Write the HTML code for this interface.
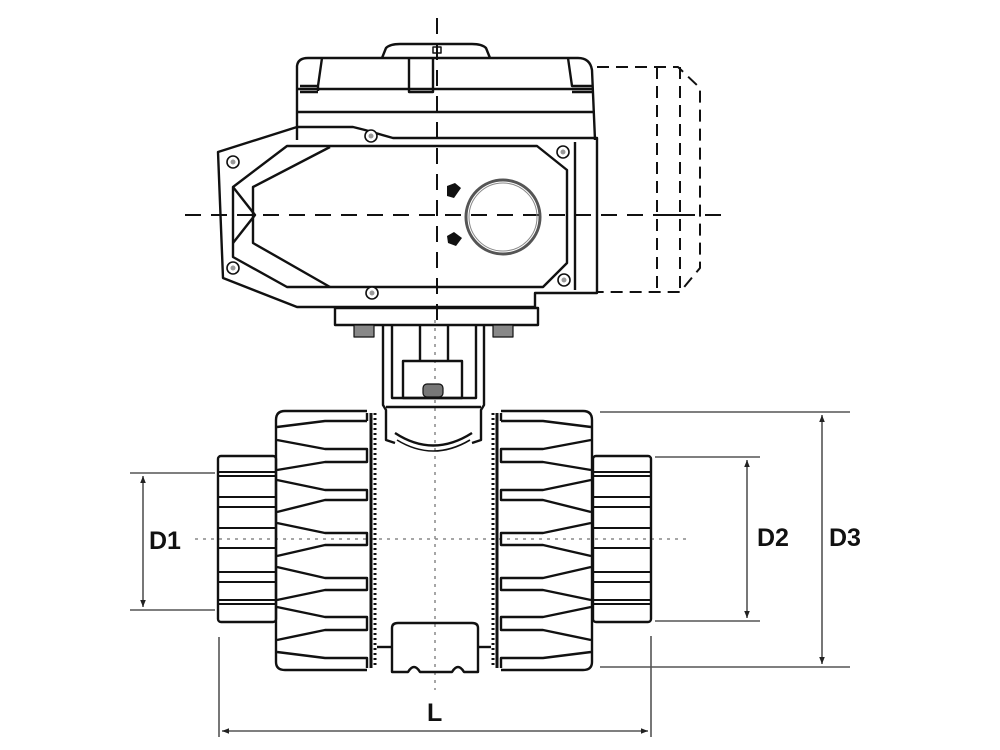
<!DOCTYPE html>
<html><head><style>html,body{margin:0;padding:0;background:#fff}svg{display:block}</style></head>
<body>
<svg width="1000" height="750" viewBox="0 0 1000 750" xmlns="http://www.w3.org/2000/svg" fill="none" stroke="#111" stroke-width="2.4" stroke-linejoin="round">
<defs>
<marker id="ar" viewBox="0 0 10 10" refX="10" refY="5" markerWidth="7" markerHeight="9" orient="auto-start-reverse" markerUnits="userSpaceOnUse"><path d="M0,1 L10,5 L0,9 z" fill="#222" stroke="none"/></marker>
</defs>
<!-- center lines -->
<g stroke="#111" stroke-width="2" stroke-dasharray="16,10">
<line x1="185" y1="215" x2="730" y2="215"/>
<line x1="437" y1="18" x2="437" y2="320"/>
</g>
<g stroke="#888" stroke-width="1.5" stroke-dasharray="3,5">
<line x1="195" y1="539" x2="690" y2="539"/>
<line x1="435" y1="320" x2="435" y2="690"/>
</g>

<!-- actuator top knob -->
<path d="M382,58 L386,48 Q390,44 400,44 L472,44 Q482,44 486,48 L490,58"/>
<rect x="433" y="47" width="8" height="6" stroke-width="1.5"/>
<!-- cover -->
<path d="M297,140 L297,66 Q298,58 308,58 L578,58 Q590,58 592,70 L595,140"/>
<line x1="297" y1="89" x2="592" y2="89"/>
<line x1="297" y1="112" x2="595" y2="112"/>
<path d="M322,58 L318,86 L300,86 M318,86 L318,91"/>
<path d="M568,58 L572,86 L592,86"/>
<path d="M409,58 L409,92 L433,92 L433,58"/>
<line x1="300" y1="92" x2="318" y2="92"/>
<line x1="572" y1="92" x2="592" y2="92"/>
<!-- housing -->
<path d="M218,152 L297,127 L353,127 L365,130 L393,138 L597,138 L597,293 L535,293 L535,307 L297,307 L223,278 Z"/>
<line x1="575" y1="142" x2="575" y2="290"/>
<path d="M287,146 L537,146 L567,170 L567,263 L543,287 L287,287 L233,257 L233,187 Z"/>
<path d="M330,147 L253,187 L253,243 L330,287"/>
<path d="M233,187 L255,215 L233,243"/>
<!-- screws -->
<g stroke-width="1.6" fill="#fff">
<circle cx="233" cy="162" r="6"/><circle cx="233" cy="268" r="6"/>
<circle cx="371" cy="136" r="6"/><circle cx="372" cy="293" r="6"/>
<circle cx="563" cy="152" r="6"/><circle cx="564" cy="280" r="6"/>
</g>
<g fill="#999" stroke="none">
<circle cx="233" cy="162" r="2.5"/><circle cx="233" cy="268" r="2.5"/>
<circle cx="371" cy="136" r="2.5"/><circle cx="372" cy="293" r="2.5"/>
<circle cx="563" cy="152" r="2.5"/><circle cx="564" cy="280" r="2.5"/>
</g>
<!-- indicator circle -->
<circle cx="503" cy="217" r="37" stroke="#555" stroke-width="3"/>
<circle cx="503" cy="217" r="34" stroke="#888" stroke-width="1"/>
<path d="M447,186 l8,-3 l6,5 l-7,10 l-7,-2 z" fill="#111" stroke="none"/>
<path d="M447,236 l7,-4 l8,6 l-6,8 l-8,-3 z" fill="#111" stroke="none"/>
<!-- dashed motor -->
<g stroke-dasharray="12,7" stroke-width="2">
<path d="M597,67 L678,67 L700,88 L700,268 L680,292 L597,292"/>
<line x1="657" y1="67" x2="657" y2="292"/>
<line x1="680" y1="67" x2="680" y2="292"/>
</g>
<line x1="657" y1="215" x2="680" y2="215" stroke-width="2"/>
<!-- flange -->
<rect x="335" y="308" width="203" height="17"/>
<rect x="354" y="325" width="20" height="12" fill="#888" stroke-width="1.2"/>
<rect x="493" y="325" width="20" height="12" fill="#888" stroke-width="1.2"/>
<!-- bracket -->
<path d="M383,325 L383,405 L386,410 L386,440 L395,443"/>
<path d="M484,325 L484,405 L481,410 L481,440 L472,443"/>
<path d="M392,325 L392,398 L476,398 L476,325"/>
<line x1="386" y1="407" x2="481" y2="407"/>
<line x1="420" y1="325" x2="420" y2="361"/><line x1="448" y1="325" x2="448" y2="361"/>
<rect x="403" y="361" width="59" height="37"/>
<rect x="423" y="384" width="20" height="13" rx="4" fill="#777" stroke-width="1.2"/>
<path d="M395,433 Q433,458 472,433"/>
<path d="M397,440 Q433,462 470,440" stroke-width="1.6"/>

<!-- valve body -->
<!-- left pipe -->
<rect x="218" y="456" width="58" height="166" rx="3"/>
<g stroke-width="2">
<line x1="218" y1="472" x2="276" y2="472"/><line x1="218" y1="476" x2="276" y2="476"/>
<line x1="218" y1="497" x2="276" y2="497"/><line x1="218" y1="507" x2="276" y2="507"/>
<line x1="218" y1="528" x2="276" y2="528"/><line x1="218" y1="548" x2="276" y2="548"/>
<line x1="218" y1="572" x2="276" y2="572"/><line x1="218" y1="582" x2="276" y2="582"/>
<line x1="218" y1="600" x2="276" y2="600"/><line x1="218" y1="604" x2="276" y2="604"/>
</g>
<!-- right pipe -->
<rect x="593" y="456" width="58" height="166" rx="3"/>
<g stroke-width="2">
<line x1="593" y1="472" x2="651" y2="472"/><line x1="593" y1="476" x2="651" y2="476"/>
<line x1="593" y1="497" x2="651" y2="497"/><line x1="593" y1="507" x2="651" y2="507"/>
<line x1="593" y1="528" x2="651" y2="528"/><line x1="593" y1="548" x2="651" y2="548"/>
<line x1="593" y1="572" x2="651" y2="572"/><line x1="593" y1="582" x2="651" y2="582"/>
<line x1="593" y1="600" x2="651" y2="600"/><line x1="593" y1="604" x2="651" y2="604"/>
</g>
<!-- left nut -->
<g id="nut">
<path d="M367,411 L285,411 Q276,411 276,420 L276,662 Q276,670 285,670 L367,670"/>
<path d="M277,427 L325,421 L367,421 M367,413 L367,421"/>
<path d="M277,440 L325,449 L367,449 L367,462 L325,462 L277,470"/>
<path d="M277,480 L325,490 L367,490 L367,500 L325,500 L277,512"/>
<path d="M277,523 L325,533 L367,533 L367,545 L325,545 L277,556"/>
<path d="M277,567 L325,578 L367,578 L367,590 L325,590 L277,600"/>
<path d="M277,607 L325,617 L367,617 L367,630 L325,630 L277,640"/>
<path d="M277,652 L325,658 L367,658 L367,668"/>
<line x1="371" y1="413" x2="371" y2="668" stroke-width="3"/>
<line x1="375" y1="413" x2="375" y2="668" stroke-width="3" stroke-dasharray="2,3"/>
</g>
<use href="#nut" transform="translate(868,0) scale(-1,1)"/>
<!-- center body -->
<line x1="377" y1="647" x2="392" y2="647"/>
<line x1="478" y1="647" x2="491" y2="647"/>
<path d="M392,672 L392,628 Q392,623 398,623 L472,623 Q478,623 478,628 L478,672 L464,672 Q458,662 452,672 L420,672 Q414,662 408,672 Z"/>

<!-- dimensions -->
<g stroke="#555" stroke-width="1.6">
<line x1="130" y1="473" x2="215" y2="473"/>
<line x1="130" y1="610" x2="215" y2="610"/>
<line x1="143" y1="476" x2="143" y2="607" marker-start="url(#ar)" marker-end="url(#ar)"/>
<line x1="655" y1="457" x2="760" y2="457"/>
<line x1="655" y1="621" x2="760" y2="621"/>
<line x1="747" y1="460" x2="747" y2="618" marker-start="url(#ar)" marker-end="url(#ar)"/>
<line x1="600" y1="412" x2="850" y2="412"/>
<line x1="600" y1="667" x2="850" y2="667"/>
<line x1="822" y1="415" x2="822" y2="664" marker-start="url(#ar)" marker-end="url(#ar)"/>
<line x1="219" y1="637" x2="219" y2="737"/>
<line x1="651" y1="636" x2="651" y2="737"/>
<line x1="222" y1="731" x2="648" y2="731" marker-start="url(#ar)" marker-end="url(#ar)"/>
</g>
<g font-family="Liberation Sans, sans-serif" font-weight="bold" font-size="25" fill="#111" stroke="none">
<text x="149" y="549">D1</text>
<text x="757" y="546">D2</text>
<text x="829" y="546">D3</text>
<text x="427" y="721">L</text>
</g>
</svg>
</body></html>
